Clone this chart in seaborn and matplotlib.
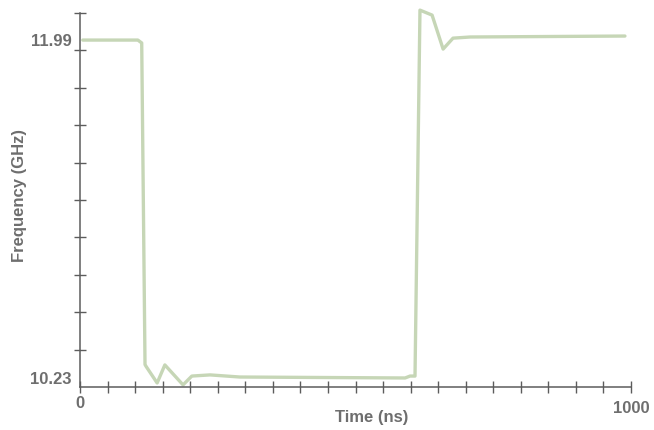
import numpy as np
import pandas as pd
import matplotlib
matplotlib.use("Agg")
import matplotlib.pyplot as plt
import matplotlib.transforms as mtransforms
import seaborn as sns

# Daten
time_ns = [5, 105, 112, 118, 120, 140, 154, 187, 203, 236, 290, 590, 599, 608,
           617, 639, 659, 677, 708, 989]
freq_ghz = [11.99, 11.99, 11.975, 10.30, 10.29, 10.204, 10.298, 10.194, 10.24,
            10.246, 10.235, 10.23, 10.24, 10.24, 12.146, 12.12, 11.943, 12.0,
            12.006, 12.011]
y_labels = [10.23, 11.99]
x_labels = [0, 1000]

df = pd.DataFrame({"time": time_ns, "freq": freq_ghz})

sns.set_theme(style="white")
plt.rcParams['font.family'] = ['Liberation Sans', 'DejaVu Sans']

axis_col = "#5c5c5c"
text_col = "#6e6e6e"
line_col = "#c6d6b6"

fig = plt.figure(figsize=(6.54, 4.30), dpi=100)
ax = fig.add_axes([80 / 654, 1 - 387 / 430, 551 / 654, 374 / 430])

sns.lineplot(data=df, x="time", y="freq", sort=False, estimator=None,
             color=line_col, linewidth=2.4, ax=ax, clip_on=False)

ax.set_xlim(0, 1000)
ax.set_ylim(10.183, 12.131)

for side in ["top", "right"]:
    ax.spines[side].set_visible(False)
for side in ["left", "bottom"]:
    ax.spines[side].set_color(axis_col)
    ax.spines[side].set_linewidth(1.1)

# x-Achse: Teilstriche alle 50 ns, Beschriftung nur 0 und 1000
ax.set_xticks(x_labels)
ax.set_xticklabels([str(v) for v in x_labels])
ax.set_xticks(np.arange(50, 1000, 50), minor=True)
ax.tick_params(axis="x", which="both", direction="inout", length=9,
               width=1.0, color=axis_col, bottom=True)
ax.tick_params(axis="x", which="major", labelsize=12, labelcolor=text_col, pad=2)

# y-Achse: 10 Teilstriche, Beschriftung bei 10.23 und 11.99
ax.set_yticks(y_labels)
ax.set_yticklabels([f"{v:.2f}" for v in y_labels])
ax.set_yticks(np.linspace(10.183, 12.131, 11)[1:], minor=True)
ax.tick_params(axis="y", which="minor", direction="inout", length=9,
               width=1.0, color=axis_col, left=True)
ax.tick_params(axis="y", which="major", length=0, labelsize=12,
               labelcolor=text_col, pad=6)

for lab in ax.get_xticklabels() + ax.get_yticklabels():
    lab.set_fontweight("bold")

# "1000" sitzt in der Vorlage etwas tiefer
xl = ax.get_xticklabels()
xl[1].set_transform(xl[1].get_transform() +
                    mtransforms.ScaledTranslation(0, -5 / 100, fig.dpi_scale_trans))

ax.set_xlabel("Time (ns)", fontsize=12, fontweight="bold", color=text_col)
ax.set_ylabel("Frequency (GHz)", fontsize=12, fontweight="bold", color=text_col)
ax.xaxis.set_label_coords((372 - 80) / 551, -(410 - 387) / 374)
ax.yaxis.set_label_coords(-(80 - 27) / 551, (387 - 196) / 374)

fig.savefig("out.png", dpi=100)
plt.close(fig)
